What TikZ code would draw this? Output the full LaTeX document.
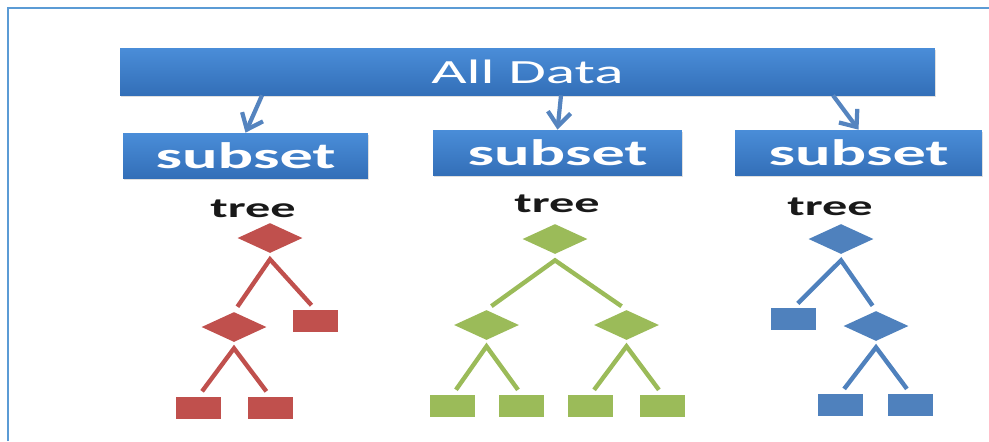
\documentclass[tikz,border=0pt]{standalone}
\usepackage{fontspec}
\setmainfont{Carlito}
\newfontfamily\slidefont[FakeStretch=1.8]{Carlito}
\usetikzlibrary{shapes.geometric,arrows.meta,shadows}

\definecolor{barlight}{HTML}{4A8DD8}
\definecolor{bardark}{HTML}{336FB8}
\definecolor{feedblue}{HTML}{5584BF}
\definecolor{framblue}{HTML}{5B9BD5}
\definecolor{treered}{HTML}{C0504D}
\definecolor{treegreen}{HTML}{9BBB59}
\definecolor{treeblue}{HTML}{4F81BD}

\begin{document}
\begin{tikzpicture}[
  x=0.02cm, y=-0.02cm,
  bar/.style={rectangle, inner sep=0, top color=barlight, bottom color=bardark,
    drop shadow={opacity=0.25, shadow xshift=0.8pt, shadow yshift=-1.2pt},
    text=white},
  feed/.style={draw=feedblue, line width=2.4pt, -{Straight Barb[length=8pt, width=13pt]}},
  treelabel/.style={anchor=base, text=black!90,
    font=\slidefont\fontsize{15.9}{17}\selectfont\bfseries},
  split/.style={diamond, fill=#1, inner sep=0, minimum width=1.3cm, minimum height=0.6cm},
  leaf/.style={rectangle, fill=#1, inner sep=0, minimum width=0.9cm, minimum height=0.44cm},
  branch/.style={draw=#1, line width=2.5pt, miter limit=4, shorten <=0.12cm, shorten >=0.12cm},
]
\path[use as bounding box] (0,0) rectangle (989,441);

% frame
\draw[framblue, line width=1.2pt] (8,441) -- (8,8) -- (989,8);

% data and its subsets
\node[bar, minimum width=16.3cm, minimum height=0.94cm,
  font=\slidefont\fontsize{19.3}{20}\selectfont] (all) at (527.5,71.5) {All Data};

\node[bar, minimum width=4.9cm, minimum height=0.9cm,
  font=\slidefont\fontsize{21}{22}\selectfont\bfseries] (sub1) at (245.5,155.5) {subset};
\node[bar, minimum width=4.98cm, minimum height=0.9cm,
  font=\slidefont\fontsize{21}{22}\selectfont\bfseries] (sub2) at (557.5,152.5) {subset};
\node[bar, minimum width=4.94cm, minimum height=0.9cm,
  font=\slidefont\fontsize{21}{22}\selectfont\bfseries] (sub3) at (858.5,152.5) {subset};

\draw[feed] ([xshift=0.33cm]sub1.north |- all.south) -- (sub1.north);
\draw[feed] ([xshift=0.07cm]sub2.north |- all.south) -- (sub2.north);
\draw[feed] ([xshift=-0.51cm]sub3.north |- all.south) -- (sub3.north);

% red tree
\node[treelabel] (t1) at (253,217) {tree};
\node[split=treered] (r0) at (270,238) {};
\node[split=treered] (r1) at (234,327) {};
\node[leaf=treered] (r2) at (315.5,321) {};
\node[leaf=treered] (r3) at (198.5,407.5) {};
\node[leaf=treered] (r4) at (270,407.5) {};
\draw[branch=treered] (r1.north) -- ([yshift=-0.12cm]r0.south) -- (r2.north);
\draw[branch=treered] (r3.north) -- ([yshift=-0.12cm]r1.south) -- (r4.north);

% green tree
\node[treelabel] (t2) at (557,212) {tree};
\node[split=treegreen] (g0) at (555,239) {};
\node[split=treegreen] (g1) at (486.5,325) {};
\node[split=treegreen] (g2) at (626.5,325) {};
\node[leaf=treegreen] (g3) at (452.5,406) {};
\node[leaf=treegreen] (g4) at (521.5,406) {};
\node[leaf=treegreen] (g5) at (590.5,406) {};
\node[leaf=treegreen] (g6) at (662.5,406) {};
\draw[branch=treegreen] (g1.north) -- ([yshift=-0.12cm]g0.south) -- (g2.north);
\draw[branch=treegreen] (g3.north) -- ([yshift=-0.12cm]g1.south) -- (g4.north);
\draw[branch=treegreen] (g5.north) -- ([yshift=-0.12cm]g2.south) -- (g6.north);

% blue tree
\node[treelabel] (t3) at (830,215) {tree};
\node[split=treeblue] (b0) at (841,239) {};
\node[leaf=treeblue] (b1) at (793.5,319) {};
\node[split=treeblue] (b2) at (876,326) {};
\node[leaf=treeblue] (b3) at (840.5,405) {};
\node[leaf=treeblue] (b4) at (910.5,405) {};
\draw[branch=treeblue] (b1.north) -- ([yshift=-0.12cm]b0.south) -- (b2.north);
\draw[branch=treeblue] (b3.north) -- ([yshift=-0.12cm]b2.south) -- (b4.north);
\end{tikzpicture}
\end{document}
